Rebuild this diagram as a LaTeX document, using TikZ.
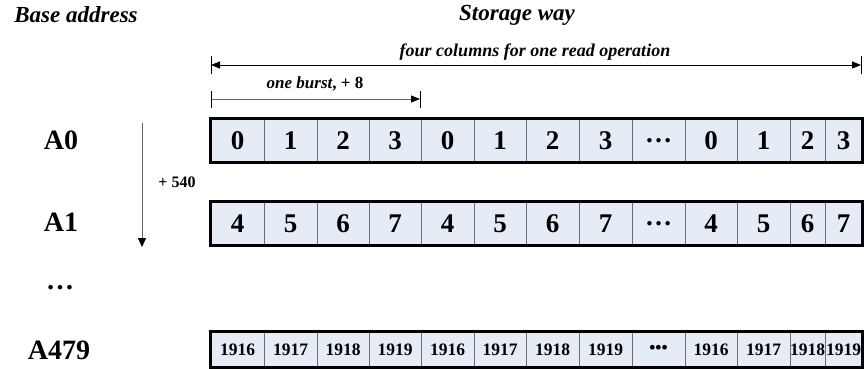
\documentclass[tikz,border=0pt]{standalone}
\usepackage{fontspec}
\setmainfont{Liberation Serif}
\usetikzlibrary{arrows.meta}
\definecolor{cellfill}{RGB}{230,236,246}
\definecolor{divgray}{RGB}{110,110,110}
\definecolor{linegray}{RGB}{100,100,100}
\tikzset{
  cell/.style={draw=divgray, line width=0.7pt, fill=cellfill, inner sep=0pt, anchor=center},
  frame/.style={draw=black, line width=2.6pt},
  hdr/.style={font=\bfseries\itshape\fontsize{23}{23}\selectfont},
  addr/.style={font=\bfseries\fontsize{28}{28}\selectfont},
  big/.style={font=\bfseries\fontsize{27}{27}\selectfont},
  small/.style={font=\bfseries\fontsize{17.5}{17.5}\selectfont},
}
\begin{document}
\begin{tikzpicture}[x=1pt,y=-1pt]
\useasboundingbox (0,0) rectangle (864,369);
% headers
\node[hdr] (base) at (76,15) {Base address};
\node[hdr] (storage) at (517,15) {Storage way};
% address labels
\node[addr] (a0) at (61,140) {A0};
\node[addr] (a1) at (61,222) {A1};
\node[addr] (adots) at (60,288) {…};
\node[addr] (a479) at (59,350) {A479};
% cells
\foreach \i/\a/\b/\ta/\tb/\tc in {
1/211/264/0/4/1916,
2/264/317/1/5/1917,
3/317/369/2/6/1918,
4/369/421/3/7/1919,
5/421/474/0/4/1916,
6/474/526/1/5/1917,
7/526/579/2/6/1918,
8/579/632/3/7/1919,
9/632/685/…/…/•••,
10/685/737/0/4/1916,
11/737/790/1/5/1917,
12/790/825/2/6/1918,
13/825/862/3/7/1919}{
  \pgfmathsetmacro\w{\b-\a}
  \pgfmathsetmacro\cx{(\a+\b)/2}
  \node[cell, big, minimum width=\w pt, minimum height=43pt] (ra\i) at (\cx,140.5) {\ta};
  \node[cell, big, minimum width=\w pt, minimum height=43pt] (rb\i) at (\cx,223.5) {\tb};
  \node[cell, small, minimum width=\w pt, minimum height=35pt] (rc\i) at (\cx,349.5) {\tc};
}
\draw[frame] (ra1.north west) rectangle (ra13.south east);
\draw[frame] (rb1.north west) rectangle (rb13.south east);
\draw[frame] (rc1.north west) rectangle (rc13.south east);
% top dimension arrow
\coordinate (t1) at (211,65);
\coordinate (t2) at (861,65);
\draw[line width=0.8pt, {Triangle[length=9pt,width=7pt]}-{Triangle[length=9pt,width=7pt]}] (t1) -- (t2);
\draw[line width=0.8pt] ([yshift=-8.5pt]t1) -- ([yshift=8.5pt]t1);
\draw[line width=0.8pt] ([yshift=-8.5pt]t2) -- ([yshift=8.5pt]t2);
\node[font=\bfseries\itshape\fontsize{18}{18}\selectfont] (four) at (535,52) {four columns for one read operation};
% burst arrow
\coordinate (b1) at (211,99);
\coordinate (b2) at (420,99);
\draw[linegray, line width=0.8pt, -{Triangle[length=9pt,width=7pt,color=black]}] (b1) -- (b2);
\draw[line width=0.8pt] ([yshift=-8.5pt]b1) -- ([yshift=8.5pt]b1);
\draw[line width=0.8pt] ([yshift=-8.5pt]b2) -- ([yshift=8.5pt]b2);
\node[font=\bfseries\fontsize{17}{17}\selectfont] (burst) at (315,84) {\textit{one burst}, + 8};
% +540 arrow
\coordinate (v1) at (142,123);
\coordinate (v2) at (142,247);
\draw[linegray, line width=0.8pt, -{Triangle[length=9pt,width=8pt,color=black]}] (v1) -- (v2);
\node[font=\bfseries\fontsize{16}{16}\selectfont] (step540) at (177,182) {+ 540};
\end{tikzpicture}
\end{document}
